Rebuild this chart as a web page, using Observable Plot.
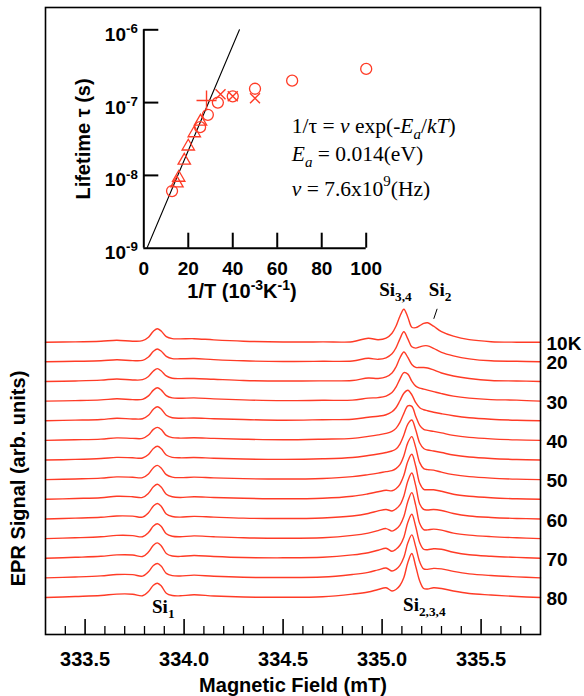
<!DOCTYPE html>
<html><head><meta charset="utf-8">
<script src="https://cdn.jsdelivr.net/npm/d3@7"></script>
<script src="https://cdn.jsdelivr.net/npm/@observablehq/plot@0.6"></script>
<style>
body{margin:0;background:#fff;}
#wrap{position:relative;width:584px;height:696px;}
#wrap svg{position:absolute;left:0;top:0;}
</style></head><body><div id="wrap"></div>
<script>
// ---------- data: EPR spectra (signal above each trace's baseline, arb. units) ----------
const fieldGrid = [333.30, 333.45, 333.58, 333.66, 333.74, 333.79, 333.82, 333.845, 333.865, 333.885, 333.91, 333.94, 333.98, 334.05, 334.15, 334.30, 334.50, 334.70,
  334.85, 334.93, 334.98, 335.02, 335.05, 335.07, 335.09, 335.11, 335.13, 335.15, 335.17, 335.19, 335.21, 335.23, 335.26, 335.30, 335.36, 335.44, 335.55, 335.68, 335.80];
const temperatures = [10, 20, 25, 30, 35, 40, 45, 50, 55, 60, 65, 70, 75, 80];
const s10 = [0, 0.3, 1, 2, 1, 1.5, 5, 11, 13.5, 11, 5.5, 3.5, 3.3, 3.5, 2.3, 1, 0.2, 0.3,
  0.5, 4, 2.5, 4, 9, 16, 26, 33, 25, 15, 14.5, 16.5, 18.8, 19.4, 16, 10.5, 6, 2.5, 0.5, 0, 0];
const s20 = [0, 0.5, 1, 2, 1.2, 1.5, 4.8, 10.5, 12.8, 10.5, 5.5, 3.2, 3, 3.3, 2.2, 1, 0.3, 0.5,
  0.8, 3.5, 2.5, 4, 8, 14, 23, 30, 23, 15, 13.7, 15, 16, 16, 13.5, 9.5, 6, 3, 1, 0.5, 0];
const s25 = [0, 0.5, 1.3, 2.5, 1.5, 1.8, 5, 10.5, 12.8, 10.5, 5.5, 3.2, 2.8, 3, 2.2, 1, 0.4, 0.6,
  1, 3.5, 3, 4.5, 8.5, 14.5, 23.5, 29.5, 24, 17, 14, 14, 14, 13.5, 11.5, 8.5, 5.5, 3, 1, 0.5, 0];
const s30 = [0, 0.5, 1.2, 2.3, 1.5, 1.8, 5.2, 11, 13.3, 11, 5.5, 3.2, 2.8, 3.2, 2.2, 1.2, 0.5, 0.8,
  1, 3, 3.5, 5, 8.5, 14, 22, 28.5, 27, 20, 15, 13, 12, 11, 9.5, 7.5, 5, 3, 1.5, 1, 0];
const s35 = [0, 0.6, 1.3, 2.5, 1.8, 2, 5.5, 11.5, 14, 11.5, 5.5, 3, 2.5, 2.8, 2, 1.2, 0.5, 1,
  1.5, 3.5, 4.5, 6, 9, 13, 20, 27.5, 30.5, 26, 18, 13, 11, 10, 8.5, 7, 5, 3, 1.5, 0.5, 0];
const s40 = [0, 0.6, 1.3, 2.5, 2, 2, 5.3, 11, 13, 10.8, 5, 2.8, 2.3, 2.6, 2, 1.2, 0.6, 1.2,
  2, 4, 5.5, 7, 9, 12, 18, 27, 34.5, 34, 24, 15, 11, 10, 9, 7.5, 5, 3, 1.5, 0.5, 0];
const s45 = [0, 0.6, 1.5, 2.6, 2.2, 2, 5.5, 11.5, 13.7, 11.2, 5, 2.7, 2.2, 2.5, 1.8, 1, 0.6, 1.2,
  2.5, 4.5, 6, 7.5, 9, 11, 16, 25, 36, 40, 30, 17, 11.5, 10, 9, 7.5, 5, 3, 1.5, 0.5, 0];
const s50 = [0, 0.7, 1.5, 2.8, 2.4, 2, 5.7, 12, 14.3, 11.5, 5, 2.6, 2, 2.5, 1.8, 1, 0.6, 1.2,
  3, 5, 6.5, 8, 9, 11, 15, 24, 37, 43, 32, 17, 11, 10, 9.5, 7.5, 5, 3, 1.5, 0.5, 0];
const s55 = [0, 0.8, 1.6, 3, 2.6, 1.9, 6, 12.5, 15, 12, 5, 2.5, 1.8, 2.6, 1.8, 1, 0.5, 1,
  3, 5.5, 7.5, 9, 8.5, 10.5, 15, 24, 38, 45, 33, 16, 10, 9.5, 9.5, 8, 5, 3, 1.5, 0.5, 0];
const s60 = [0, 0.8, 1.7, 3, 2.8, 1.8, 6.2, 13, 15.5, 12.5, 5, 2.4, 1.8, 2.6, 1.8, 0.8, 0.4, 1,
  3, 5.5, 8, 9.5, 8, 10, 14, 23, 38, 46, 33, 15, 9.5, 9, 9.5, 8.5, 5.5, 3, 1.5, 0.5, 0];
const s65 = [0, 0.8, 1.8, 3.2, 3, 1.8, 6, 12.5, 14.8, 12, 4.8, 2.3, 1.8, 2.7, 1.8, 0.8, 0.4, 0.9,
  3.2, 5.5, 8, 10, 7.5, 9.5, 13.5, 22, 37, 46, 33, 15, 9, 8.7, 9.5, 8.5, 5.5, 3.5, 2, 0.8, 0];
const s70 = [0, 0.9, 1.9, 3.3, 3.2, 1.7, 6.2, 13, 15.3, 12.3, 4.8, 2.2, 1.8, 2.7, 1.7, 0.7, 0.4, 0.9,
  3.3, 5.5, 8, 10, 7, 9, 13, 21, 36, 44, 31.5, 15.5, 9, 8.5, 9.5, 9, 6, 3.5, 2, 0.8, 0];
const s75 = [0, 0.9, 2, 3.3, 3.2, 1.7, 6, 12.3, 14.3, 11.5, 4.5, 2.2, 1.8, 2.7, 1.6, 0.6, 0.3, 0.8,
  3.4, 5.5, 8, 9.8, 6.8, 8.5, 12.5, 20.5, 35, 43, 31, 16, 9, 8.5, 9.5, 9, 6.5, 4, 2.3, 1, 0];
const s80 = [0, 1, 2, 3.4, 3.3, 1.7, 6, 12.3, 14.3, 11.5, 4.3, 2, 1.7, 2.7, 1.5, 0.5, 0.2, 0.8,
  3.4, 5.5, 8, 9.7, 6.5, 8, 12, 20, 35, 44, 31, 16.5, 9, 8.5, 9.7, 9, 6.5, 4, 2.5, 1, 0];
const spectra = [s10, s20, s25, s30, s35, s40, s45, s50, s55, s60, s65, s70, s75, s80];
const majorTicks = [333.5, 334.0, 334.5, 335.0, 335.5];
const minorTicks = [333.4, 333.6, 333.7, 333.8, 333.9, 334.1, 334.2, 334.3, 334.4, 334.6, 334.7, 334.8, 334.9, 335.1, 335.2, 335.3, 335.4, 335.6, 335.7];

// ---------- data: inset (lifetime vs 1/T) ----------
const invTCircle = [100, 66.7, 50, 40, 33.3, 28.8, 25.3, 12.7];
const tauCircle = [2.9e-7, 2.0e-7, 1.55e-7, 1.22e-7, 1.0e-7, 6.8e-8, 4.6e-8, 6.1e-9];
const invTTriangle = [25.5, 22.7, 20.0, 18.2, 15.7, 14.9];
const tauTriangle = [5.5e-8, 3.8e-8, 2.5e-8, 1.6e-8, 9.3e-9, 7.8e-9];
const invTPlus = [28.2];
const tauPlus = [1.07e-7];
const invTTimes = [34.5, 40, 50];
const tauTimes = [1.3e-7, 1.22e-7, 1.15e-7];
const invTFit = [1.4, 43.0];
const tauFit = [1e-9, 1e-6];
const insetXTicks = [0, 20, 40, 60, 80, 100];
const insetYTicks = [1e-9, 1e-8, 1e-7, 1e-6];

// ---------- build ----------
const RED = "#ff3b26";
const SANS = "'Liberation Sans', Arial, Helvetica, sans-serif";
const SERIF = "'Liberation Serif', 'Times New Roman', Times, serif";
const SPACING = 19.64, BASE = 37;
const baseline = i => BASE + (temperatures.length - 1 - i) * SPACING;

const rows = temperatures.flatMap((T, i) =>
  fieldGrid.map((f, j) => ({T, field: f, y: baseline(i) + spectra[i][j]})));
const tempLabels = temperatures.map((T, i) => ({T, i})).filter(d => d.T % 10 === 0)
  .map(d => ({label: d.T === 10 ? "10K" : String(d.T), y: baseline(d.i) - 1.5}));
const pts = (xs, ys) => xs.map((x, k) => ({invT: x, tau: ys[k]}));

const innerH = 696 - 7 - 62;
const main = Plot.plot({
  width: 584, height: 696,
  marginTop: 7, marginRight: 44, marginBottom: 62, marginLeft: 45,
  x: {domain: [333.3, 335.8]},
  y: {domain: [0, innerH], axis: null},
  style: {background: "white", fontFamily: SANS},
  marks: [
    Plot.line(rows, {x: "field", y: "y", z: "T", stroke: RED, strokeWidth: 1.4, curve: "catmull-rom"}),
    Plot.frame({stroke: "black", strokeWidth: 1.6}),
    Plot.ruleX(majorTicks, {insetTop: innerH - 15, strokeWidth: 1.6}),
    Plot.ruleX(minorTicks, {insetTop: innerH - 8, strokeWidth: 1.3}),
    Plot.axisX({ticks: majorTicks, tickSize: 0, tickPadding: 17, tickFormat: d3.format(".1f"), label: null,
      fontSize: 20, fontWeight: "bold", fontFamily: SANS}),
    Plot.text(["Magnetic Field (mT)"], {frameAnchor: "bottom", dy: 57, lineAnchor: "bottom",
      fontSize: 20, fontWeight: "bold", fontFamily: SANS}),
    Plot.text(["EPR Signal (arb. units)"], {frameAnchor: "left", y: 156, dx: -27, rotate: -90, textAnchor: "middle",
      fontSize: 20, fontWeight: "bold", fontFamily: SANS}),
    Plot.text(tempLabels, {frameAnchor: "right", y: "y", text: "label", dx: 6, textAnchor: "start",
      fontSize: 19, fontWeight: "bold", fontFamily: SANS}),
    Plot.text([
      {t: "Si_{3,4}", x: 334.985, y: 339},
      {t: "Si_{2}", x: 335.236, y: 339},
      {t: "Si_{1}", x: 333.838, y: 22},
      {t: "Si_{2,3,4}", x: 335.106, y: 24}
    ], {x: "x", y: "y", text: "t", textAnchor: "start", lineAnchor: "bottom",
      fontSize: 19, fontWeight: "bold", fontFamily: SERIF}),
    Plot.link([{x1: 335.278, y1: 325.7, x2: 335.261, y2: 315.7}], {x1: "x1", y1: "y1", x2: "x2", y2: "y2", stroke: "black", strokeWidth: 1}),
    Plot.text([
      {t: "1/τ = *ν* exp(-*E*_{*a*}/*kT*)", y: 502},
      {t: "*E*_{*a*} = 0.014(eV)", y: 474},
      {t: "*ν* = 7.6x10^{9}(Hz)", y: 439}
    ], {x: 334.544, y: "y", text: "t", textAnchor: "start", lineAnchor: "bottom",
      fontSize: 21.5, fontFamily: SERIF})
  ]
});

const iW = 365.7 - 143.3, iH = 247.7 - 29.3;
const inset = Plot.plot({
  width: 584, height: 696,
  marginLeft: 143.3, marginRight: 584 - 365.7, marginTop: 29.3, marginBottom: 696 - 247.7,
  x: {domain: [0, 100]},
  y: {type: "log", domain: [1e-9, 1e-6]},
  style: {background: "transparent", overflow: "visible", fontFamily: SANS},
  marks: [
    Plot.line(pts(invTFit, tauFit), {x: "invT", y: "tau", stroke: "black", strokeWidth: 1.1}),
    Plot.ruleX([0], {strokeWidth: 2}),
    Plot.ruleY([1e-9], {strokeWidth: 2}),
    Plot.ruleX(insetXTicks.slice(1), {insetTop: iH - 15, strokeWidth: 2}),
    Plot.ruleY(insetYTicks.slice(1), {insetRight: iW - 15, strokeWidth: 2}),
    Plot.dot(pts(invTCircle, tauCircle), {x: "invT", y: "tau", r: 5.5, stroke: RED, fill: "none", strokeWidth: 1.3}),
    Plot.dot(pts(invTTriangle, tauTriangle), {x: "invT", y: "tau", r: 4.6, symbol: "triangle", stroke: RED, fill: "none", strokeWidth: 1.3}),
    Plot.dot(pts(invTPlus, tauPlus), {x: "invT", y: "tau", r: 6.5, symbol: "plus", stroke: RED, fill: "none", strokeWidth: 1.4}),
    Plot.dot(pts(invTTimes, tauTimes), {x: "invT", y: "tau", r: 4.6, symbol: "times", stroke: RED, fill: "none", strokeWidth: 1.4}),
    Plot.axisX({ticks: insetXTicks, tickSize: 0, tickPadding: 13, label: null, fontSize: 19, fontWeight: "bold", fontFamily: SANS}),
    Plot.axisY({ticks: insetYTicks, tickSize: 0, tickPadding: 6, label: null, dy: 5,
      tickFormat: d => "10^{" + Math.round(Math.log10(d)) + "}", fontSize: 19, fontWeight: "bold", fontFamily: SANS}),
    Plot.text(["Lifetime τ (s)"], {frameAnchor: "left", dx: -60, rotate: -90, textAnchor: "middle",
      fontSize: 20, fontWeight: "bold", fontFamily: SANS}),
    Plot.text(["1/T (10^{-3}K^{-1})"], {frameAnchor: "bottom", dx: -13, dy: 50, textAnchor: "middle",
      fontSize: 20, fontWeight: "bold", fontFamily: SANS})
  ]
});

// rich text markup: _{sub}, ^{sup}, *italic*
function richify(svg) {
  svg.querySelectorAll("text").forEach(text => {
    const src = text.textContent;
    if (!/_\{|\^\{|\*/.test(src)) return;
    const g = text.closest("[font-size]");
    const fs = parseFloat(g ? g.getAttribute("font-size") : 16);
    text.textContent = "";
    let cur = 0;
    for (const tok of src.match(/_\{[^}]*\}|\^\{[^}]*\}|\*[^*]*\*|[^_^*]+/g)) {
      let t = tok, mode = "n", italic = false;
      if (tok.startsWith("_{")) { mode = "sub"; t = tok.slice(2, -1); }
      else if (tok.startsWith("^{")) { mode = "sup"; t = tok.slice(2, -1); }
      if (t.length > 1 && t.startsWith("*") && t.endsWith("*")) { italic = true; t = t.slice(1, -1); }
      const target = mode === "sub" ? 0.28 * fs : mode === "sup" ? -0.42 * fs : 0;
      const ts = document.createElementNS("http://www.w3.org/2000/svg", "tspan");
      ts.setAttribute("dy", (target - cur).toFixed(2));
      cur = target;
      if (mode !== "n") ts.setAttribute("font-size", (0.7 * fs).toFixed(1));
      if (italic) ts.setAttribute("font-style", "italic");
      ts.textContent = t;
      text.appendChild(ts);
    }
  });
}
richify(main);
richify(inset);

const wrap = document.getElementById("wrap");
wrap.appendChild(main);
wrap.appendChild(inset);
</script></body></html>
